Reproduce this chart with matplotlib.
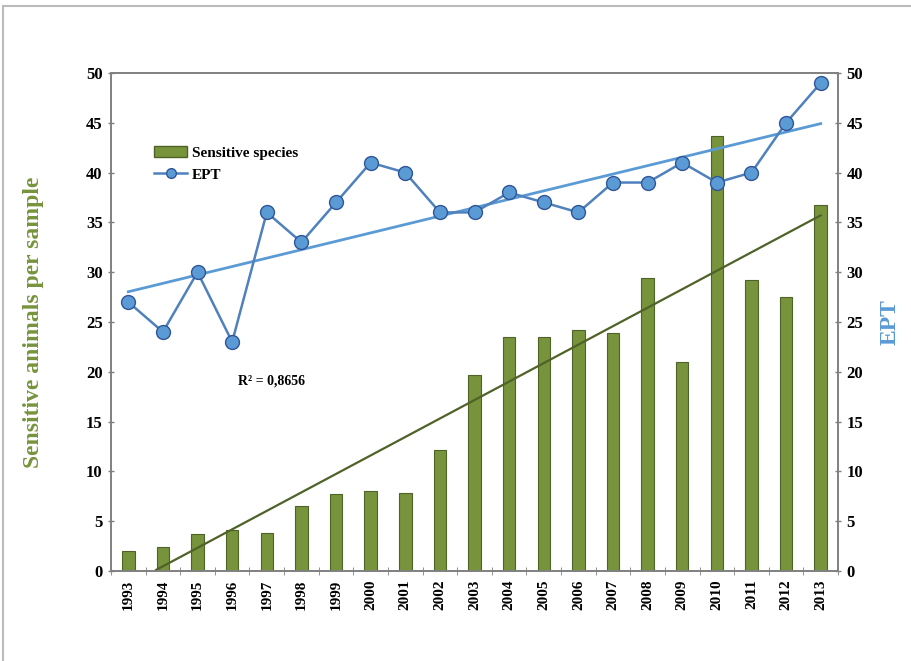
import numpy as np
import matplotlib
matplotlib.use("Agg")
import matplotlib.pyplot as plt
from matplotlib.lines import Line2D

years = [str(y) for y in range(1993, 2014)]
sensitive = [2.0, 2.4, 3.7, 4.1, 3.8, 6.5, 7.7, 8.0, 7.8, 12.1, 19.7,
             23.5, 23.5, 24.2, 23.9, 29.4, 21.0, 43.7, 29.2, 27.5, 36.7]
ept = [27, 24, 30, 23, 36, 33, 37, 41, 40, 36, 36,
       38, 37, 36, 39, 39, 41, 39, 40, 45, 49]
r2_label = "R² = 0,8656"

green = "#77933C"
green_dark = "#4F6228"
blue = "#4F81BD"
blue_light = "#5B9BD5"
grey = "#808080"

plt.rcParams["font.family"] = ["Liberation Serif", "DejaVu Serif"]
plt.rcParams["font.weight"] = "bold"

fig = plt.figure(figsize=(9.12, 6.61), dpi=100)
ax = fig.add_axes([0.1217, 0.1362, 0.7972, 0.7534])
ax2 = ax.twinx()

x = np.arange(len(years))
ax.bar(x, sensitive, width=0.36, color=green, edgecolor=green_dark, linewidth=0.8, zorder=2)

# linear trend of sensitive species, clipped at zero like the spreadsheet
p = np.polyfit(x, sensitive, 1)
xt = np.linspace(0, len(years) - 1, 200)
yt = np.polyval(p, xt)
keep = yt >= 0
ax.plot(xt[keep], yt[keep], color=green_dark, lw=1.6, zorder=3)

ax.set_xlim(-0.5, len(years) - 0.5)
ax.set_ylim(0, 50)
ax2.set_ylim(0, 50)

# EPT line and trend
q = np.polyfit(x, ept, 1)
ax2.plot(x, np.polyval(q, x), color=blue_light, lw=2.0, zorder=3)
ax2.plot(x, ept, color=blue, lw=1.8, marker="o", markersize=10,
         markerfacecolor=blue_light, markeredgecolor="#2F5597", markeredgewidth=1.0, zorder=4)

ticks = np.arange(0, 51, 5)
for a in (ax, ax2):
    a.set_yticks(ticks)
    a.tick_params(axis="y", length=5, color=grey, direction="inout", labelsize=12, width=1)
    for s in a.spines.values():
        s.set_color(grey)
        s.set_linewidth(1.2)
ax.set_yticklabels([str(t) for t in ticks], fontweight="bold")
ax2.set_yticklabels([str(t) for t in ticks], fontweight="bold")

ax.set_xticks(x)
ax.set_xticklabels(years, rotation=90, fontsize=11, fontweight="bold")
ax.tick_params(axis="x", length=0, pad=6)
ax.set_xticks(np.arange(-0.5, len(years), 1), minor=True)
ax.tick_params(axis="x", which="minor", length=6, color=grey, direction="inout")

ax.set_ylabel("Sensitive animals per sample", color=green, fontsize=17, fontweight="bold", labelpad=30)
ax2.set_ylabel("EPT", color=blue_light, fontsize=17, fontweight="bold", labelpad=12)

ax.text(0.175, 0.375, r2_label, transform=ax.transAxes, fontsize=10, fontweight="bold")

handles = [plt.Rectangle((0, 0), 1, 1, facecolor=green, edgecolor=green_dark),
           Line2D([0], [0], color=blue, lw=1.8, marker="o", markersize=7,
                  markerfacecolor=blue_light, markeredgecolor="#2F5597")]
ax2.legend(handles, ["Sensitive species", "EPT"], loc="upper left",
           bbox_to_anchor=(0.04, 0.88), frameon=False,
           handlelength=2.2, handletextpad=0.3, labelspacing=0.5,
           prop={"weight": "bold", "size": 11})

# outer frame lines of the picture
fig.add_artist(Line2D([0.003, 1.0], [0.991, 0.991], color="#BBBBBB", lw=1.5, transform=fig.transFigure))
fig.add_artist(Line2D([0.003, 0.003], [0.0, 0.991], color="#BBBBBB", lw=1.5, transform=fig.transFigure))

fig.savefig("out.png", dpi=100)
